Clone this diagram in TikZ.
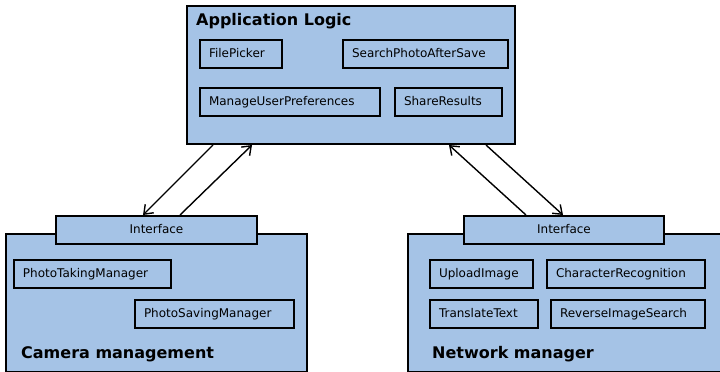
\documentclass[tikz,border=0pt]{standalone}
\usepackage{fontspec}
\setmainfont{DejaVu Sans}
\usepackage{tikz}
\usetikzlibrary{arrows.meta, positioning, calc}

\definecolor{pkgblue}{HTML}{A5C3E6}

\begin{document}
\begin{tikzpicture}[
  x=1pt, y=-1pt,
  pkg/.style={draw, fill=pkgblue, line width=2pt, anchor=north west,
              inner sep=0pt},
  comp/.style={draw, fill=pkgblue, line width=2pt, anchor=north west,
               font=\fontsize{12}{14}\selectfont, align=left,
               inner xsep=9pt, inner ysep=0pt, minimum height=28pt,
               text height=10pt, text depth=4pt},
  iface/.style={comp, align=center, inner xsep=0pt},
  title/.style={font=\fontsize{16}{18}\selectfont\bfseries, anchor=base west,
                inner sep=0pt},
  >={Straight Barb[length=8pt, width=12pt]},
  link/.style={line width=1.4pt}
]
\useasboundingbox (0,0) rectangle (720,372);

% --- Application logic package ---
\node[pkg, minimum width=328pt, minimum height=138pt] (logic) at (186,5) {};
\node[title] (logictitle) at (196,25) {Application Logic};
\node[comp, text width=64pt] (picker) at (199,39) {FilePicker};
\node[comp, text width=147pt] (search) at (342,39) {SearchPhotoAfterSave};
\node[comp, text width=162pt] (prefs) at (199,87) {ManageUserPreferences};
\node[comp, text width=89pt] (share) at (394,87) {ShareResults};

% --- Camera management package ---
\node[pkg, minimum width=301pt, minimum height=138pt] (camera) at (5,233) {};
\node[iface, minimum width=201pt] (camif) at (55,215) {Interface};
\node[comp, text width=139pt] (taking) at (13,259) {PhotoTakingManager};
\node[comp, text width=141pt] (saving) at (134,299) {PhotoSavingManager};
\node[title] (cameratitle) at (21,358) {Camera management};

% --- Network manager package ---
\node[pkg, minimum width=316pt, minimum height=138pt] (network) at (407,233) {};
\node[iface, minimum width=200pt] (netif) at (463,215) {Interface};
\node[comp, text width=85pt] (upload) at (429,259) {UploadImage};
\node[comp, text width=140pt] (ocr) at (546,259) {CharacterRecognition};
\node[comp, text width=90pt] (translate) at (429,299) {TranslateText};
\node[comp, text width=136pt] (reverse) at (550,299) {ReverseImageSearch};
\node[title] (networktitle) at (432,358) {Network manager};

% --- Calls between logic and the interfaces ---
\draw[link, ->] ([xshift=27pt]logic.south west) -- ([xshift=88pt]camif.north west);
\draw[link, ->] ([xshift=125pt]camif.north west) -- ([xshift=66pt]logic.south west);
\draw[link, ->] ([xshift=63pt]netif.north west) -- ([xshift=263pt]logic.south west);
\draw[link, ->] ([xshift=300pt]logic.south west) -- ([xshift=100pt]netif.north west);

\end{tikzpicture}
\end{document}
